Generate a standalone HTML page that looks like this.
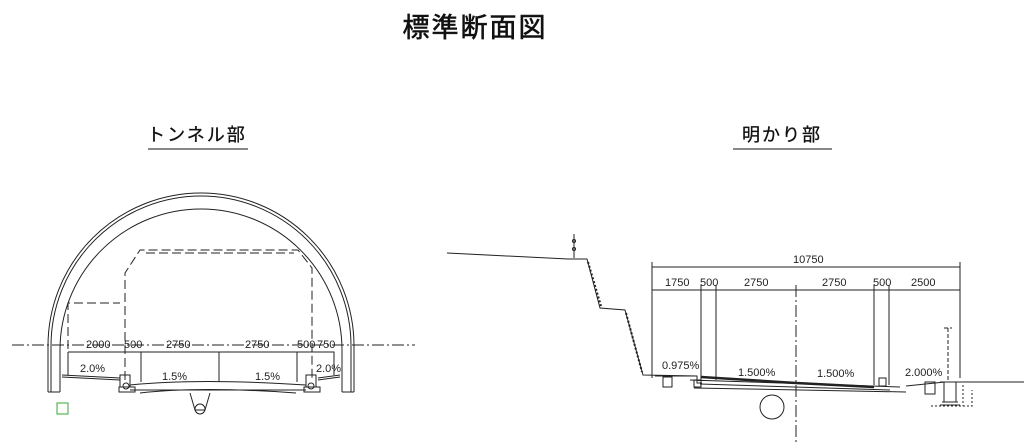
<!DOCTYPE html>
<html><head><meta charset="utf-8"><style>
html,body{margin:0;padding:0;background:#fff;}
svg{display:block;}
text{font-family:"Liberation Sans","Noto Sans CJK JP",sans-serif;}
.d{font-family:"Liberation Mono","Noto Sans CJK JP",monospace;font-size:11px;fill:#222;}
</style></head><body>
<svg width="1024" height="445" viewBox="0 0 1024 445" xmlns="http://www.w3.org/2000/svg">
<text x="475" y="37" font-size="27" text-anchor="middle" letter-spacing="2" fill="#111" stroke="#111" stroke-width="0.6">標準断面図</text>
<text x="197" y="141" font-size="18" text-anchor="middle" letter-spacing="2" fill="#111" stroke="#111" stroke-width="0.3">トンネル部</text>
<line x1="148" y1="149" x2="248" y2="149" stroke="#888" stroke-width="2"/>
<text x="782" y="141" font-size="18" text-anchor="middle" letter-spacing="2" fill="#111" stroke="#111" stroke-width="0.3">明かり部</text>
<line x1="733" y1="149" x2="832" y2="149" stroke="#888" stroke-width="2"/>

<g fill="none" stroke="#222" stroke-width="1">
<!-- tunnel -->
<path d="M48 392 L48 346 A153 153 0 0 1 354 346 L354 392"/>
<path d="M51 392 L51 346 A150 150 0 0 1 351 346 L351 392"/>
<path d="M60 392 L60 350 A141 141 0 0 1 342 350 L342 392"/>
<line x1="48" y1="392" x2="60" y2="392"/><line x1="342" y1="392" x2="354" y2="392"/>
<path d="M125 380 V273 L140 250 H298 L312 268 V380" stroke-dasharray="9 4"/>
<path d="M146 253 H294" stroke-dasharray="9 4"/>
<path d="M68 375 V303 H120" stroke-dasharray="9 4"/>
<line x1="12" y1="345" x2="415" y2="345" stroke-dasharray="12 3 2 3"/>
<path d="M68 352 H334 V375 M141 352 V382 M219 352 V382 M297 352 V382 M68 352 V375"/>
<path d="M62 375 L120 378 M62 377 L120 380 M318 378 L340 375 M318 380 L340 377"/>
<path d="M130 385 Q200 378 306 385 M130 390 H306 M140 393 Q200 386 296 393" />
<rect x="120" y="375" width="10" height="12"/><rect x="306" y="375" width="10" height="12"/>
<rect x="119" y="387" width="16" height="5"/><rect x="304" y="387" width="16" height="5"/>
<circle cx="126" cy="386" r="3"/><circle cx="311" cy="386" r="3"/>
<path d="M190 393 L195 410 L205 410 L210 393"/>
<circle cx="200" cy="409" r="5"/>
<!-- open section -->
<path d="M447 253 L568 259 L587 259 L600 308 L625 310 L643 375 L697 376"/>
<line x1="574" y1="234" x2="574" y2="258"/>
<circle cx="574" cy="241" r="1.5"/><circle cx="574" cy="249" r="1.5"/>
<path d="M588 262 L601 306 M626 313 L642 372" stroke-dasharray="2 2" stroke-width="2"/>
<path d="M652 267 H960 M652 290 H960"/>
<path d="M652 262 V378 M960 262 V378 M701 285 V380 M716 285 V380 M874 285 V385 M889 285 V385"/>
<line x1="796" y1="285" x2="796" y2="445" stroke-dasharray="12 3 2 3"/>
<path d="M655 376 H697 L697 383 H702 M690 380 L900 387 M694 388 L906 392 M700 384 L890 390 M906 386 L945 382 L1024 382"/>
<rect x="663" y="377" width="9" height="10"/>
<rect x="694" y="380" width="7" height="7"/>
<rect x="879" y="378" width="7" height="8"/>
<rect x="925" y="382" width="10" height="12"/>
<circle cx="772" cy="407" r="12"/>
<path d="M944 328 H952 M948 328 V382" stroke-dasharray="4 2"/>
<path d="M940 382 H960 M944 382 V402 M956 382 V402 M940 405 H960 M942 402 H958"/>
<path d="M931 406 H972 V390 M963 385 V406" stroke-dasharray="2 2"/>
<line x1="701" y1="377" x2="796" y2="383" stroke-width="2.5"/>
<line x1="796" y1="383" x2="874" y2="387" stroke-width="2.5"/>
</g>
<rect x="57" y="403" width="11" height="11" fill="none" stroke="#3a3" stroke-width="1"/>

<g class="d">
<text x="86" y="348">2000</text>
<text x="124" y="348">500</text>
<text x="166" y="348">2750</text>
<text x="245" y="348">2750</text>
<text x="297" y="348">500</text><text x="317" y="348">750</text>
<text x="80" y="372">2.0%</text>
<text x="162" y="380">1.5%</text>
<text x="255" y="380">1.5%</text>
<text x="316" y="372">2.0%</text>
<text x="793" y="263">10750</text>
<text x="665" y="286">1750</text>
<text x="700" y="286">500</text>
<text x="744" y="286">2750</text>
<text x="822" y="286">2750</text>
<text x="873" y="286">500</text>
<text x="911" y="286">2500</text>
<text x="662" y="369">0.975%</text>
<text x="738" y="376">1.500%</text>
<text x="817" y="377">1.500%</text>
<text x="905" y="376">2.000%</text>
</g>
</svg>
</body></html>
